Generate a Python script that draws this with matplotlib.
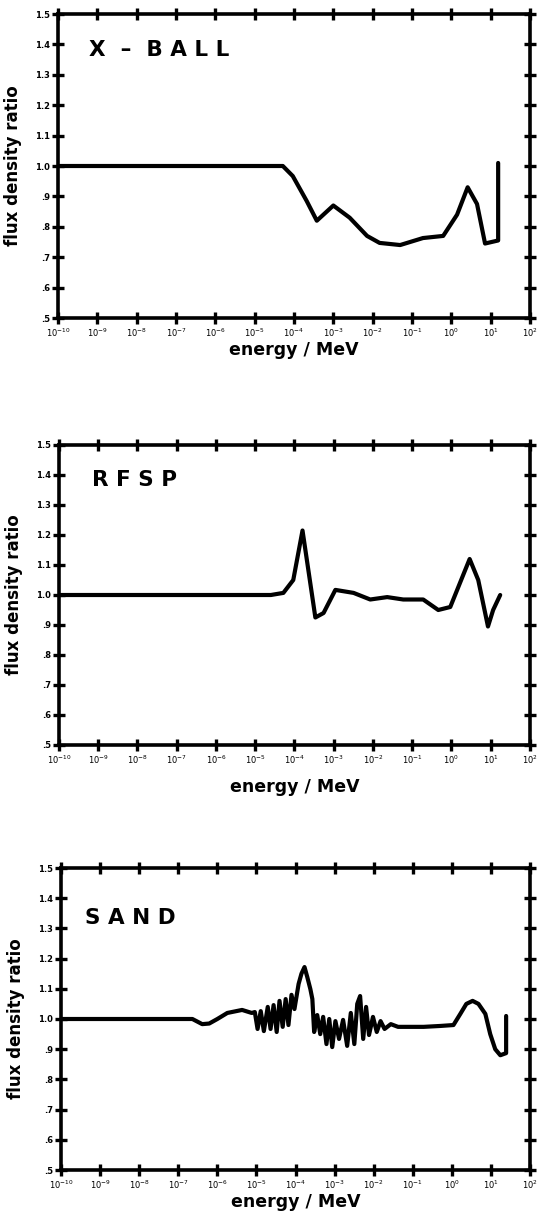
import numpy as np
import matplotlib
matplotlib.use("Agg")
import matplotlib.pyplot as plt

# Neutron flux density ratios versus energy for three spectrum codes
xball_energy = [1e-10, 5.2e-5, 9.3e-5, 2.1e-4, 3.8e-4, 1.0e-3, 2.6e-3, 7.2e-3, 1.5e-2,
                5.0e-2, 0.19, 0.62, 1.4, 2.6, 4.5, 7.2, 15.5, 15.5]
xball_ratio = [1.0, 1.0, 0.967, 0.885, 0.82, 0.87, 0.83, 0.77, 0.747,
               0.74, 0.763, 0.77, 0.84, 0.93, 0.875, 0.745, 0.755, 1.01]

rfsp_energy = [1e-10, 2.5e-5, 5.2e-5, 9.3e-5, 1.6e-4, 3.4e-4, 5.5e-4, 1.1e-3, 3.2e-3,
               8.5e-3, 2.3e-2, 5.9e-2, 0.19, 0.46, 0.93, 2.9, 4.8, 8.5, 11.5, 17.4]
rfsp_ratio = [1.0, 1.0, 1.007, 1.05, 1.215, 0.925, 0.94, 1.017, 1.007,
              0.985, 0.993, 0.985, 0.985, 0.95, 0.96, 1.12, 1.05, 0.895, 0.95, 1.0]

sand_energy = [1e-10, 2.3e-7, 4.1e-7, 6.2e-7, 1e-6, 1.8e-6, 4.3e-6, 7.6e-6,
               9.1e-6, 1.07e-5, 1.29e-5, 1.55e-5, 1.95e-5, 2.3e-5, 2.75e-5, 3.3e-5,
               3.9e-5, 4.7e-5, 5.6e-5, 6.6e-5, 7.9e-5, 9.4e-5, 1.2e-4, 1.42e-4,
               1.7e-4, 2.0e-4, 2.4e-4, 2.7e-4, 3.0e-4, 3.6e-4, 4.3e-4, 5.1e-4,
               6.2e-4, 7.3e-4, 8.7e-4, 1.05e-3, 1.3e-3, 1.65e-3, 2.1e-3, 2.6e-3,
               3.2e-3, 3.8e-3, 4.5e-3, 5.4e-3, 6.4e-3, 7.6e-3, 9.6e-3, 1.2e-2,
               1.5e-2, 1.9e-2, 2.75e-2, 4.2e-2, 8.9e-2, 0.19, 0.51, 1.1,
               1.65, 2.35, 3.4, 4.8, 7.2, 9.6, 12.9, 17.4, 24.5, 24.5]
sand_ratio = [1.0, 1.0, 0.983, 0.985, 1.0, 1.02, 1.03, 1.02,
              1.023, 0.967, 1.026, 0.96, 1.04, 0.967, 1.046, 0.957,
              1.06, 0.974, 1.066, 0.98, 1.08, 1.033, 1.116, 1.15,
              1.172, 1.139, 1.099, 1.066, 0.957, 1.013, 0.95, 1.007,
              0.917, 1.0, 0.907, 0.993, 0.934, 0.997, 0.911, 1.02,
              0.917, 1.05, 1.076, 0.934, 1.04, 0.947, 1.007, 0.957,
              0.993, 0.967, 0.983, 0.974, 0.974, 0.974, 0.977, 0.98,
              1.017, 1.05, 1.06, 1.05, 1.017, 0.95, 0.9, 0.88, 0.887, 1.01]

panel_names = ["X  \u2013  B A L L", "R F S P", "S A N D"]
y_ticks = [0.5, 0.6, 0.7, 0.8, 0.9, 1.0, 1.1, 1.2, 1.3, 1.4, 1.5]
y_tick_labels = [".5", ".6", ".7", ".8", ".9", "1.0", "1.1", "1.2", "1.3", "1.4", "1.5"]
x_ticks = [1e-10, 1e-9, 1e-8, 1e-7, 1e-6, 1e-5, 1e-4, 1e-3, 1e-2, 1e-1, 1e0, 1e1, 1e2]
x_tick_labels = [r"$10^{-10}$", r"$10^{-9}$", r"$10^{-8}$", r"$10^{-7}$", r"$10^{-6}$",
                 r"$10^{-5}$", r"$10^{-4}$", r"$10^{-3}$", r"$10^{-2}$", r"$10^{-1}$",
                 r"$10^{0}$", r"$10^{1}$", r"$10^{2}$"]

W, H = 538, 1216
fig = plt.figure(figsize=(W / 100, H / 100), dpi=100)
fig.patch.set_facecolor("white")

# axes boxes in pixels: left, top, right, bottom
boxes = [(58, 14, 530, 318), (59, 445, 530, 745), (61, 868, 530, 1170)]
series = [(xball_energy, xball_ratio), (rfsp_energy, rfsp_ratio), (sand_energy, sand_ratio)]
title_pos = [(0.066, 0.88), (0.07, 0.883), (0.052, 0.834)]
xlabel_y = [-0.076, -0.11, -0.076]

for (l, t, r, b), (en, ra), name, tp, xly in zip(boxes, series, panel_names, title_pos, xlabel_y):
    ax = fig.add_axes([l / W, 1 - b / H, (r - l) / W, (b - t) / H])
    ax.plot(en, ra, color="black", lw=3.0, solid_joinstyle="round", solid_capstyle="round")
    ax.set_xscale("log")
    ax.set_xlim(1e-10, 1e2)
    ax.set_ylim(0.5, 1.5)
    ax.set_xticks(x_ticks)
    ax.set_xticklabels(x_tick_labels)
    ax.minorticks_off()
    ax.set_yticks(y_ticks)
    ax.set_yticklabels(y_tick_labels)
    for s in ax.spines.values():
        s.set_linewidth(2.6)
    ax.tick_params(axis="both", which="major", direction="inout", length=9, width=2.4,
                   labelsize=6, pad=1, top=True, right=True)
    ax.tick_params(axis="x", labelsize=6, pad=2)
    for lab in ax.get_xticklabels() + ax.get_yticklabels():
        lab.set_fontweight("bold")
    ax.text(tp[0], tp[1], name, transform=ax.transAxes, fontsize=15.5,
            fontweight="heavy", va="center", ha="left")
    ax.set_ylabel("flux density ratio", fontsize=12, fontweight="bold")
    ax.yaxis.set_label_coords(-0.076, 0.5)
    ax.set_xlabel("energy / MeV", fontsize=12.5, fontweight="bold")
    ax.xaxis.set_label_coords(0.5, xly)

fig.savefig("out.png", dpi=100, facecolor="white")
